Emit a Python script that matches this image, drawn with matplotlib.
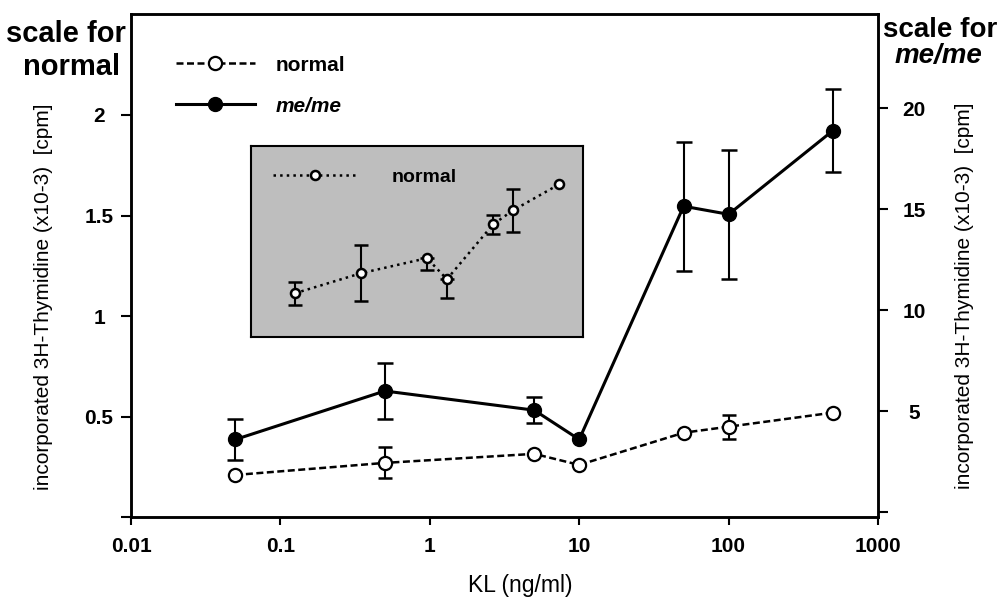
import numpy as np
import matplotlib.pyplot as plt

plt.rcParams['font.family'] = ['Liberation Sans', 'DejaVu Sans']

# KL concentrations (ng/ml)
kl = np.array([0.05, 0.5, 5, 10, 50, 100, 500])

# normal, left scale
normal = np.array([0.21, 0.27, 0.315, 0.26, 0.42, 0.45, 0.52])
normal_err = np.array([0, 0.077, 0, 0, 0, 0.06, 0])

# me/me, right scale
meme = np.array([3.6, 6.0, 5.05, 3.6, 15.15, 14.75, 18.9])
meme_err = np.array([1.0, 1.4, 0.65, 0, 3.2, 3.2, 2.05])

# inset: normal enlarged
inset_y = np.array([0.21, 0.267, 0.31, 0.25, 0.406, 0.446, 0.52])
inset_lo = np.array([0.033, 0.08, 0.034, 0.054, 0.028, 0.062, 0])
inset_hi = np.array([0.033, 0.08, 0, 0, 0.028, 0.062, 0])

xticks = [0.01, 0.1, 1, 10, 100, 1000]
xticklabels = ['0.01', '0.1', '1', '10', '100', '1000']
lticks = [0, 0.5, 1, 1.5, 2]
lticklabels = ['', '0.5', '1', '1.5', '2']
rticks = [0, 5, 10, 15, 20]
rticklabels = ['', '5', '10', '15', '20']

fig = plt.figure(figsize=(10, 6), dpi=100)
ax = fig.add_axes([0.131, 0.138, 0.747, 0.838])
ax2 = ax.twinx()

# normal
ax.plot(kl, normal, linestyle=(0, (2.8, 1.4)), color='black', lw=1.8,
        marker='o', ms=9.5, mfc='white', mec='black', mew=1.6, zorder=3)
m = normal_err > 0
ax.errorbar(kl[m], normal[m], yerr=normal_err[m], fmt='none', ecolor='black',
            elinewidth=1.5, capsize=5, capthick=1.8, zorder=2)

# me/me
ax2.plot(kl, meme, '-', color='black', lw=2.2, marker='o', ms=10,
         mfc='black', mec='black', zorder=3)
m = meme_err > 0
ax2.errorbar(kl[m], meme[m], yerr=meme_err[m], fmt='none', ecolor='black',
             elinewidth=1.5, capsize=5.5, capthick=1.8, zorder=2)

ax.set_xscale('log')
ax.set_xlim(0.01, 1000)
ax.set_ylim(0, 2.5)
ax2.set_ylim(-0.25, 24.65)
ax.set_xticks(xticks)
ax.set_xticklabels(xticklabels, fontsize=15, fontweight='bold')
ax.minorticks_off()
ax.set_yticks(lticks)
ax.set_yticklabels(lticklabels, fontsize=15, fontweight='bold', ha='center')
ax2.set_yticks(rticks)
ax2.set_yticklabels(rticklabels, fontsize=15, fontweight='bold', ha='center')
ax.tick_params(axis='x', direction='out', length=6, width=1.5, pad=8)
ax.tick_params(axis='y', direction='out', length=7, width=1.5, pad=16)
ax2.tick_params(axis='y', direction='out', length=7, width=1.5, pad=19)
for a in (ax, ax2):
    for s in a.spines.values():
        s.set_linewidth(1.8)

ax.set_xlabel('KL (ng/ml)', fontsize=16.5, labelpad=13)
ax.xaxis.label.set_x(0.521)
fig.text(0.044, 0.505, 'incorporated 3H-Thymidine (x10-3)  [cpm]', rotation=90,
         fontsize=15, ha='center', va='center')
fig.text(0.965, 0.507, 'incorporated 3H-Thymidine (x10-3)  [cpm]', rotation=90,
         fontsize=15, ha='center', va='center')

fig.text(0.066, 0.93, 'scale for', fontsize=21, fontweight='bold', ha='center')
fig.text(0.072, 0.875, 'normal', fontsize=21, fontweight='bold', ha='center')
fig.text(0.94, 0.938, 'scale for', fontsize=20, fontweight='bold', ha='center')
fig.text(0.938, 0.895, 'me/me', fontsize=20, fontweight='bold', style='italic',
         ha='center')

# legend
h1, = ax.plot([], [], linestyle=(0, (2.8, 1.4)), color='black', lw=1.8,
              marker='o', ms=9.5, mfc='white', mec='black', mew=1.6)
h2, = ax.plot([], [], '-', color='black', lw=2.2, marker='o', ms=10,
              mfc='black', mec='black')
leg = ax2.legend([h1, h2], ['normal', 'me/me'], loc='upper left',
                 bbox_to_anchor=(0.06, 0.918), frameon=False, borderpad=0,
                 borderaxespad=0, handlelength=3.8, handletextpad=1.0,
                 labelspacing=1.05, prop={'size': 15, 'weight': 'bold'})
leg.get_texts()[1].set_style('italic')

# inset
ax_in = fig.add_axes([0.251, 0.438, 0.332, 0.318])
ax_in.set_facecolor('#bebebe')
ax_in.plot(kl, inset_y, ':', color='black', lw=1.8, marker='o', ms=6.5,
           mfc='white', mec='black', mew=1.8, label='normal', zorder=3)
m = (inset_lo + inset_hi) > 0
ax_in.errorbar(kl[m], inset_y[m], yerr=[inset_lo[m], inset_hi[m]], fmt='none',
               ecolor='black', elinewidth=1.5, capsize=5, capthick=1.8, zorder=2)
ax_in.set_xscale('log')
ax_in.set_xlim(0.0108, 1150)
ax_in.set_ylim(0.085, 0.628)
ax_in.set_xticks([])
ax_in.set_yticks([])
ax_in.minorticks_off()
for s in ax_in.spines.values():
    s.set_linewidth(1.5)
ax_in.legend(loc='upper left', bbox_to_anchor=(0.066, 0.885), frameon=False,
             borderpad=0, borderaxespad=0, handlelength=4.3, handletextpad=1.8,
             prop={'size': 14, 'weight': 'bold'})

fig.savefig('out.png', dpi=100)
